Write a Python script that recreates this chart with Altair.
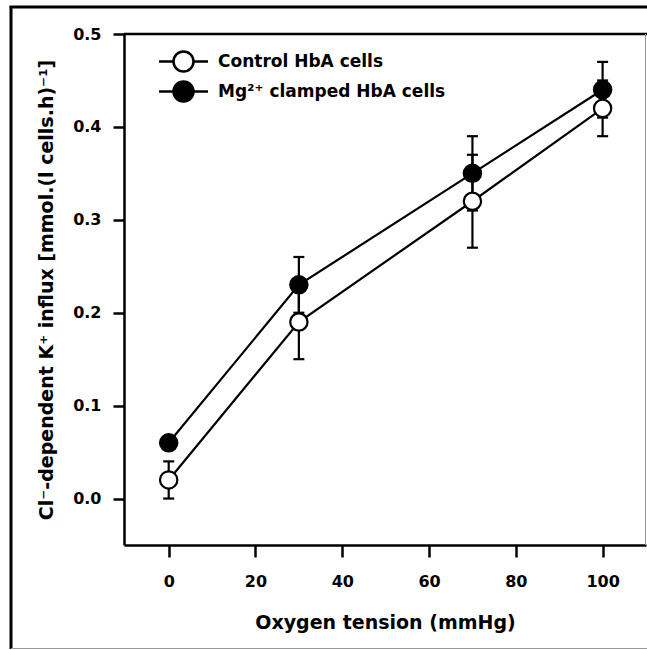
import altair as alt
import pandas as pd

# ---- data ----
oxygen = [0, 30, 70, 100]
control_mean = [0.02, 0.19, 0.32, 0.42]
control_err = [0.02, 0.04, 0.05, 0.03]
mg_mean = [0.06, 0.23, 0.35, 0.44]
mg_err = [0.005, 0.03, 0.04, 0.03]
series_names = ["Control HbA cells", "Mg²⁺ clamped HbA cells"]
series_fill = ["white", "black"]
x_ticks = [0, 20, 40, 60, 80, 100]
y_ticks = [0.0, 0.1, 0.2, 0.3, 0.4, 0.5]

rows = []
for name, means, errs in [(series_names[0], control_mean, control_err),
                          (series_names[1], mg_mean, mg_err)]:
    for xv, m, e in zip(oxygen, means, errs):
        rows.append({"series": name, "x": xv, "y": m, "lo": m - e, "hi": m + e})
df = pd.DataFrame(rows)

W, H = 522, 511
FONT = "DejaVu Sans"

xscale = alt.Scale(domain=[-10.3, 110], nice=False, zero=False)
yscale = alt.Scale(domain=[-0.05, 0.5], nice=False, zero=False)

x_axis = alt.Axis(values=x_ticks, format="d", grid=False, domainColor="black",
                  domainWidth=2.5, tickColor="black", tickWidth=2.5, tickSize=12,
                  labelFont=FONT, labelFontSize=16, labelFontWeight="bold",
                  labelColor="black", labelPadding=16, labelFlush=False,
                  title="Oxygen tension (mmHg)", titleFont=FONT, titleFontSize=19,
                  titleFontWeight="bold", titleColor="black", titleX=W / 2,
                  titleY=83, titleBaseline="alphabetic", titleAlign="center")
y_axis = alt.Axis(values=y_ticks, format=".1f", grid=False, domainColor="black",
                  domainWidth=2.5, tickColor="black", tickWidth=2.5, tickSize=11,
                  labelFont=FONT, labelFontSize=16, labelFontWeight="bold",
                  labelColor="black", labelPadding=12, labelFlush=False,
                  title="Cl⁻-dependent K⁺ influx [mmol.(l cells.h)⁻¹]",
                  titleFont=FONT, titleFontSize=19, titleFontWeight="bold",
                  titleColor="black", titleX=-72, titleY=H / 2, titleAngle=270,
                  titleBaseline="alphabetic", titleAlign="center")

legend_path = ("M-1.885,0L-0.769,0M0.769,0L1.885,0"
               "M-0.769,0A0.769,0.769,0,1,1,0.769,0A0.769,0.769,0,1,1,-0.769,0Z")

base = alt.Chart(df)

lines = base.mark_line(color="black", strokeWidth=2.2).encode(
    x=alt.X("x:Q", scale=xscale, axis=x_axis),
    y=alt.Y("y:Q", scale=yscale, axis=y_axis),
    detail="series:N",
)
err_rule = base.mark_rule(color="black", strokeWidth=2.2).encode(
    x=alt.X("x:Q", scale=xscale), y=alt.Y("lo:Q", scale=yscale), y2="hi:Q")
cap_lo = base.mark_tick(color="black", thickness=2.2, size=11, orient="horizontal", opacity=1).encode(
    x=alt.X("x:Q", scale=xscale), y=alt.Y("lo:Q", scale=yscale))
cap_hi = base.mark_tick(color="black", thickness=2.2, size=11, orient="horizontal", opacity=1).encode(
    x=alt.X("x:Q", scale=xscale), y=alt.Y("hi:Q", scale=yscale))

points = base.mark_circle(size=300, stroke="black", strokeWidth=2.2, opacity=1).encode(
    x=alt.X("x:Q", scale=xscale),
    y=alt.Y("y:Q", scale=yscale),
    fill=alt.Fill("series:N", sort=series_names,
                  scale=alt.Scale(domain=series_names, range=series_fill),
                  legend=alt.Legend(orient="none", legendX=45, legendY=13, title=None,
                                    symbolType=legend_path, symbolSize=676,
                                    symbolStrokeColor="black", symbolStrokeWidth=2.5,
                                    symbolOpacity=1, labelFont=FONT, labelFontSize=17,
                                    labelFontWeight="bold", labelColor="black",
                                    labelOffset=20, rowPadding=-4, padding=0,
                                    labelLimit=400)),
)

one = pd.DataFrame({"k": [0]})
top_border = alt.Chart(one).mark_rule(color="black", strokeWidth=2.5).encode(
    x=alt.value(0), x2=alt.value(W + 1), y=alt.value(0))
right_border = alt.Chart(one).mark_rule(color="#999999", strokeWidth=1).encode(
    x=alt.value(W - 0.5), y=alt.value(0), y2=alt.value(H))
outer_left = alt.Chart(one).mark_rule(color="black", strokeWidth=3).encode(
    x=alt.value(-113), y=alt.value(-27.5), y2=alt.value(615))
outer_top = alt.Chart(one).mark_rule(color="black", strokeWidth=3).encode(
    x=alt.value(-114.5), x2=alt.value(W + 1), y=alt.value(-27))
outer_bottom = alt.Chart(one).mark_rule(color="#999999", strokeWidth=1).encode(
    x=alt.value(-113), x2=alt.value(W + 1), y=alt.value(614.5))

chart = alt.layer(
    lines, err_rule, cap_lo, cap_hi, points,
    top_border, right_border, outer_left, outer_top, outer_bottom,
).properties(
    width=W, height=H,
    autosize=alt.AutoSizeParams(type="none"),
    padding={"left": 124, "top": 34, "right": 1, "bottom": 105},
    background="white",
).configure_view(stroke=None)

chart.save("out.html", embed_options={"renderer": "svg", "actions": False})
